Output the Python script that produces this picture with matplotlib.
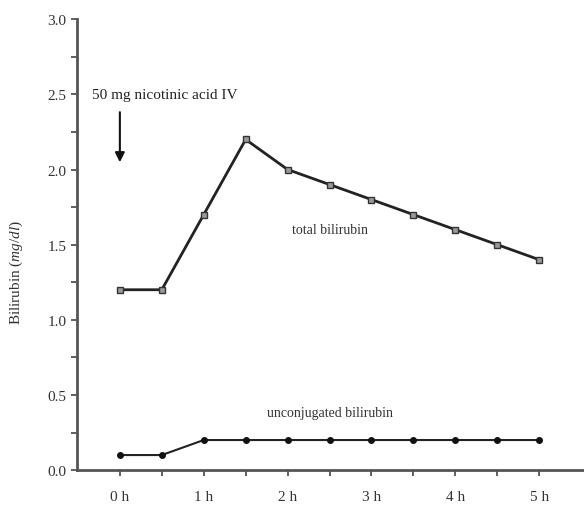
import matplotlib.pyplot as plt
import numpy as np

hours = [0, 0.5, 1, 1.5, 2, 2.5, 3, 3.5, 4, 4.5, 5]
total = [1.2, 1.2, 1.7, 2.2, 2.0, 1.9, 1.8, 1.7, 1.6, 1.5, 1.4]
unconj = [0.1, 0.1, 0.2, 0.2, 0.2, 0.2, 0.2, 0.2, 0.2, 0.2, 0.2]
xtick_labels = ["0 h", "1 h", "2 h", "3 h", "4 h", "5 h"]

plt.rcParams['font.family'] = ['Liberation Serif', 'DejaVu Serif']
plt.rcParams['mathtext.fontset'] = 'custom'
plt.rcParams['mathtext.it'] = 'Liberation Serif:italic'
plt.rcParams['mathtext.rm'] = 'Liberation Serif'

fig = plt.figure(figsize=(5.84, 5.06), dpi=100)
ax = fig.add_axes([0.132, 0.069, 0.866, 0.891])

ax.plot(hours, total, color="#222222", lw=2, marker="s", ms=5,
        mfc="#999999", mec="#333333", mew=1)
ax.plot(hours, unconj, color="#222222", lw=1.5, marker="o", ms=4,
        mfc="#111111", mec="#111111")

ax.set_xlim(-0.51, 5.52)
ax.set_ylim(0, 3.0)
ax.set_xticks(np.arange(0, 5.1, 0.5), minor=True)
ax.set_xticks(range(6))
ax.set_xticklabels(xtick_labels)
ax.set_yticks(np.arange(0, 3.01, 0.5))
ax.set_yticks(np.arange(0, 3.01, 0.25), minor=True)
ax.yaxis.set_major_formatter(plt.FormatStrFormatter("%.1f"))

for s in ["top", "right"]:
    ax.spines[s].set_visible(False)
for s in ["left", "bottom"]:
    ax.spines[s].set_linewidth(2)
    ax.spines[s].set_color("#555555")
ax.tick_params(which="both", direction="out", length=4, width=1.2, color="#444444")
ax.tick_params(axis="both", labelsize=11, labelcolor="#333333")
ax.tick_params(axis="x", pad=10)

ax.set_ylabel("Bilirubin ($\\mathit{mg/dl}$)", fontsize=11, color="#333333")
ax.yaxis.set_label_coords(-0.103, 0.44)

ax.text(-0.33, 2.5, "50 mg nicotinic acid IV", fontsize=11, va="center", ha="left", color="#222222")
ax.annotate("", xy=(0, 2.03), xytext=(0, 2.4),
            arrowprops=dict(arrowstyle="-|>", color="#111111", lw=1.5, mutation_scale=14))
ax.text(2.51, 1.6, "total bilirubin", fontsize=10, ha="center", va="center", color="#333333")
ax.text(2.51, 0.385, "unconjugated bilirubin", fontsize=10, ha="center", va="center", color="#333333")

fig.savefig("out.png", dpi=100)
